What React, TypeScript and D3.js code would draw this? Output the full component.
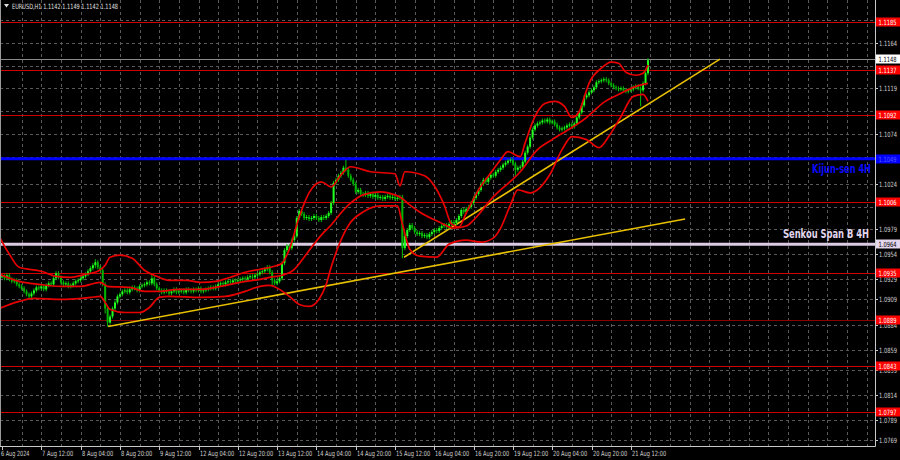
import React from 'react';
import * as d3 from 'd3';

const W = 900;
const H = 460;
const BASE = 1.08; // closes and band values are pips above this

// hourly closes, 6 Aug 20:00 .. 21 Aug 19:00 (pips above 1.0800)
const closes = [
  132, 130, 133, 129, 127, 128, 124, 122, 120, 117, 114, 112,
  115, 118, 121, 120, 122, 119, 123, 125, 124, 130, 135, 131,
  126, 124, 125, 122, 123, 125, 127, 128, 130, 132, 134, 137,
  140, 143, 146, 141, 138, 124, 100, 86, 92, 100, 106, 112,
  114, 117, 118, 116, 119, 121, 120, 118, 122, 123, 124, 126,
  125, 130, 124, 120, 118, 116, 118, 117, 115, 117, 119, 116,
  117, 118, 116, 119, 118, 117, 119, 118, 120, 117, 118, 119,
  120, 121, 120, 122, 124, 125, 124, 126, 127, 126, 128, 127,
  128, 129, 130, 129, 131, 132, 131, 133, 134, 136, 137, 139,
  141, 136, 128, 125, 127, 130, 145, 158, 162, 160, 168, 172,
  190, 197, 194, 190, 191, 189, 190, 192, 190, 188, 191, 190,
  192, 195, 205, 225, 228, 232, 235, 240, 238, 232, 228, 224,
  216, 218, 214, 213, 215, 212, 214, 211, 213, 210, 211, 209,
  211, 212, 210, 211, 209, 210, 211, 160, 172, 178, 183, 180,
  176, 174, 175, 172, 173, 171, 174, 176, 178, 177, 180, 182,
  183, 181, 184, 186, 185, 188, 192, 198, 196, 199, 201, 205,
  210, 214, 218, 224, 228, 226, 230, 233, 232, 236, 238, 240,
  243, 245, 247, 248, 244, 238, 240, 241, 246, 255, 261, 270,
  278, 282, 284, 285, 287, 286, 288, 285, 286, 283, 280, 278,
  279, 280, 282, 283, 281, 284, 290, 295, 302, 310, 312, 315,
  317, 320, 325, 326, 327, 328, 327, 324, 322, 320, 319, 318,
  319, 317, 316, 317, 318, 320, 321, 319, 317, 324, 334, 347,
];

// notable wicks: [bar, high, low]
const wicks: [number, number, number][] = [
  [38, 149, 140], [42, 124, 95], [43, 92, 82], [61, 135, 124],
  [110, 136, 122], [140, 248, 236], [163, 211, 150], [209, 244, 232],
  [260, 320, 301], [263, 349, 334],
];

const upperIdx = [-1, 3, 7, 16, 22, 28, 34, 39, 42, 44, 48, 53, 58, 63, 68, 75, 81, 87, 93, 99, 105, 111, 114, 117, 121, 125, 130, 134, 138, 142, 150, 160, 162, 164, 172, 176, 180, 183, 186, 189, 194, 199, 203, 206, 211, 213, 217, 221, 225, 229, 232, 235, 237, 239, 244, 248, 251, 254, 258, 261, 263];
const upperVal = [171, 154, 141, 137, 132, 131, 134, 137, 143, 151, 153, 150, 138, 132, 128, 128, 126, 127, 131, 136, 139, 142, 145, 159, 191, 215, 226, 221, 233, 241, 236, 234, 222, 236, 232, 222, 203, 184, 181, 195, 218, 235, 248, 256, 251, 265, 291, 304, 306, 301, 290, 296, 310, 324, 339, 345, 344, 335, 332, 334, 342];

const middleIdx = [-1, 7, 15, 24, 32, 40, 43, 52, 58, 64, 72, 81, 89, 97, 105, 109, 114, 119, 123, 127, 130, 134, 138, 142, 147, 154, 160, 162, 166, 170, 178, 184, 189, 192, 200, 211, 218, 224, 232, 238, 245, 252, 257, 263];
const middleVal = [134, 127, 124, 122, 122, 126, 122, 121, 117, 117, 119, 119, 122, 126, 129, 131, 133, 139, 151, 164, 173, 183, 195, 205, 213, 216, 213, 211, 203, 196, 186, 180, 182, 188, 211, 236, 258, 268, 280, 290, 305, 314, 320, 324];

const lowerIdx = [-1, 7, 13, 24, 36, 40, 42, 44, 50, 56, 60, 64, 68, 81, 91, 99, 105, 109, 113, 117, 121, 125, 129, 132, 134, 138, 142, 147, 154, 161, 163, 166, 170, 177, 182, 189, 195, 200, 203, 207, 210, 215, 223, 228, 232, 238, 243, 247, 252, 257, 261, 263];
const lowerVal = [100, 107, 110, 109, 111, 112, 106, 99, 96, 96, 101, 111, 112, 111, 112, 117, 122, 123, 119, 112, 104, 102, 109, 124, 141, 168, 186, 196, 202, 202, 184, 159, 152, 151, 164, 168, 166, 170, 180, 203, 218, 215, 233, 258, 271, 268, 260, 271, 291, 311, 313, 306];

// trend lines: [bar, price] pairs
const trendLines: [number, number][][] = [
  [[43.2, 1.0882], [278.1, 1.0989]],
  [[163.7, 1.0951], [292.3, 1.1148]],
];

const redLevels = [1.1185, 1.1137, 1.1092, 1.1006, 1.0935, 1.0889, 1.0843, 1.0797];
const kijun = 1.1049;
const senkouB = 1.0964;
const lastPrice = 1.1148;

const gridLabels = ['1.1164', '1.1119', '1.1074', '1.1024', '1.0979', '1.0954', '1.0929', '1.0909', '1.0884', '1.0859', '1.0839', '1.0814', '1.0789', '1.0769'];
const hiddenGrid = [1.1187, 1.1141, 1.1096, 1.1051, 1.1001];

const timeIdx = [0, 16, 32, 48, 64, 80, 96, 112, 128, 144, 160, 176, 192, 208, 224, 240, 256];
const timeLabels = ['6 Aug 2024', '7 Aug 12:00', '8 Aug 04:00', '8 Aug 20:00', '9 Aug 12:00', '12 Aug 04:00', '12 Aug 20:00', '13 Aug 12:00', '14 Aug 04:00', '14 Aug 20:00', '15 Aug 12:00', '16 Aug 04:00', '16 Aug 20:00', '19 Aug 12:00', '20 Aug 04:00', '20 Aug 20:00', '21 Aug 12:00'];

const title = 'EURUSD,H1  1.1142 1.1149 1.1142 1.1148';

const PLOT_R = 875;
const PLOT_B = 446;
const FONT = 'Tahoma, "DejaVu Sans", sans-serif';
const TAIL = 2; // px of shadow drawn past each body

const App: React.FC = () => {
  const x = d3.scaleLinear().domain([0, 263]).range([2, 648]);
  const y = d3.scaleLinear().domain([1.1185, 1.0797]).range([22, 412]);
  const py = (v: number) => y(BASE + v / 10000);

  const bandLine = d3.line<[number, number]>()
    .x(d => x(d[0]))
    .y(d => py(d[1]))
    .curve(d3.curveMonotoneX);

  const bands = [
    d3.zip(upperIdx, upperVal) as [number, number][],
    d3.zip(middleIdx, middleVal) as [number, number][],
    d3.zip(lowerIdx, lowerVal) as [number, number][],
  ];

  const wickMap = new Map(wicks.map(w => [w[0], w]));

  // vertical grid every 8 bars, running into the empty right margin
  const vGrid = d3.range(8, 360, 8).filter(i => x(i) < PLOT_R - 1);
  const allGrid = [...gridLabels.map(Number), ...hiddenGrid];

  const labelBox = (price: number, fill: string, textFill: string, key: string) => {
    const yy = Math.round(y(price));
    return (
      <g key={key}>
        <rect x={876} y={yy - 4.5} width={24} height={9} fill={fill} />
        <text x={878.5} y={yy + 2.6} fontSize={7.2} fill={textFill} fontFamily={FONT}
          textLength={18} lengthAdjust="spacingAndGlyphs">{price.toFixed(4)}</text>
      </g>
    );
  };

  return (
    <svg width={W} height={H} style={{ position: 'absolute', left: 0, top: 0, display: 'block', background: '#000' }}>
      <rect width={W} height={H} fill="#000" />

      {/* grid */}
      <g stroke="#5a5a5a" strokeWidth={1} strokeDasharray="3,3">
        {allGrid.map((p, k) => {
          const yy = Math.round(y(p)) + 0.5;
          return <line key={'h' + k} x1={0} x2={PLOT_R} y1={yy} y2={yy} />;
        })}
        {vGrid.map(i => {
          const xx = Math.round(x(i)) + 0.5;
          return <line key={'v' + i} x1={xx} x2={xx} y1={0} y2={PLOT_B} />;
        })}
      </g>

      {/* horizontal levels */}
      {redLevels.map(p => (
        <line key={'r' + p} x1={0} x2={PLOT_R} y1={Math.round(y(p)) + 0.5} y2={Math.round(y(p)) + 0.5}
          stroke={p === 1.0889 ? '#8c0000' : '#d00000'} strokeWidth={1} />
      ))}
      <line x1={0} x2={PLOT_R} y1={y(kijun)} y2={y(kijun)} stroke="#0000ff" strokeWidth={3} />
      <line x1={0} x2={PLOT_R} y1={y(senkouB)} y2={y(senkouB)} stroke="#dccbe4" strokeWidth={3} />
      <line x1={0} x2={PLOT_R} y1={Math.round(y(lastPrice)) + 0.5} y2={Math.round(y(lastPrice)) + 0.5} stroke="#8a8a8a" strokeWidth={1} />

      {/* trend lines */}
      {trendLines.map((t, k) => (
        <line key={'t' + k} x1={x(t[0][0])} y1={y(t[0][1])} x2={x(t[1][0])} y2={y(t[1][1])}
          stroke="#e8c000" strokeWidth={1.6} />
      ))}

      {/* candles */}
      <g>
        {closes.map((c, i) => {
          const o = i === 0 ? c : closes[i - 1];
          const bull = c >= o;
          const col = bull ? '#22ff22' : '#00b400';
          const xx = x(i);
          const top = py(Math.max(o, c));
          const bot = py(Math.min(o, c));
          const w = wickMap.get(i);
          const hiY = w ? Math.min(py(w[1]), top - TAIL) : top - TAIL;
          const loY = w ? Math.max(py(w[2]), bot + TAIL) : bot + TAIL;
          return (
            <g key={'c' + i}>
              <line x1={xx} x2={xx} y1={hiY} y2={loY} stroke="#00c000" strokeWidth={1} />
              <rect x={xx - 1} y={top} width={2} height={Math.max(1, bot - top)} fill={col} />
            </g>
          );
        })}
      </g>

      {/* bands */}
      {bands.map((b, k) => (
        <path key={'b' + k} d={bandLine(b) || ''} fill="none" stroke="#e80000" strokeWidth={1.7} />
      ))}

      {/* frame */}
      <line x1={0.5} x2={0.5} y1={0} y2={PLOT_B} stroke="#9a9a9a" />
      <line x1={PLOT_R + 0.5} x2={PLOT_R + 0.5} y1={0} y2={PLOT_B + 0.5} stroke="#c8c8c8" />
      <line x1={0} x2={PLOT_R + 0.5} y1={PLOT_B + 0.5} y2={PLOT_B + 0.5} stroke="#c8c8c8" />

      {/* price axis labels */}
      {gridLabels.map(s => {
        const yy = Math.round(y(Number(s)));
        return (
          <g key={'gl' + s}>
            <line x1={PLOT_R} x2={PLOT_R + 3} y1={yy + 0.5} y2={yy + 0.5} stroke="#c8c8c8" />
            <text x={879} y={yy + 2.6} fontSize={7.2} fill="#d0d0d0" fontFamily={FONT}
              textLength={18} lengthAdjust="spacingAndGlyphs">{s}</text>
          </g>
        );
      })}
      {redLevels.map(p => labelBox(p, '#ff0000', '#ffffff', 'lb' + p))}
      {labelBox(kijun, '#0000ff', '#5a5aff', 'lbk')}
      {labelBox(senkouB, '#e4d6ec', '#000000', 'lbs')}
      {labelBox(lastPrice, '#ffffff', '#000000', 'lbl')}

      {/* indicator captions */}
      <text x={812} y={173} fontSize={13} fontWeight="bold" fill="#0a0aff"
        fontFamily='"Liberation Sans Narrow", "DejaVu Sans Condensed", sans-serif'
        textLength={59} lengthAdjust="spacingAndGlyphs">Kijun-sen 4H</text>
      <text x={783} y={238} fontSize={13} fontWeight="bold" fill="#e2d6ee"
        fontFamily='"Liberation Sans Narrow", "DejaVu Sans Condensed", sans-serif'
        textLength={86} lengthAdjust="spacingAndGlyphs">Senkou Span B 4H</text>

      {/* time axis */}
      {timeIdx.map((i, k) => {
        const xx = Math.round(x(i)) + 0.5;
        const s = timeLabels[k];
        return (
          <g key={'ta' + k}>
            <line x1={xx} x2={xx} y1={PLOT_B} y2={PLOT_B + 4} stroke="#c8c8c8" />
            <text x={k === 0 ? 1 : xx + 0.5} y={455.5} fontSize={7.2} fill="#d0d0d0" fontFamily={FONT}
              textLength={s.length * 2.85} lengthAdjust="spacingAndGlyphs">{s}</text>
          </g>
        );
      })}

      {/* title */}
      <path d="M4,4 L9,4 L6.5,7.5 Z" fill="#e0e0e0" />
      <text x={12} y={8.5} fontSize={7.2} fill="#e0e0e0" fontFamily={FONT}
        textLength={106} lengthAdjust="spacingAndGlyphs">{title}</text>
    </svg>
  );
};

export default App;
